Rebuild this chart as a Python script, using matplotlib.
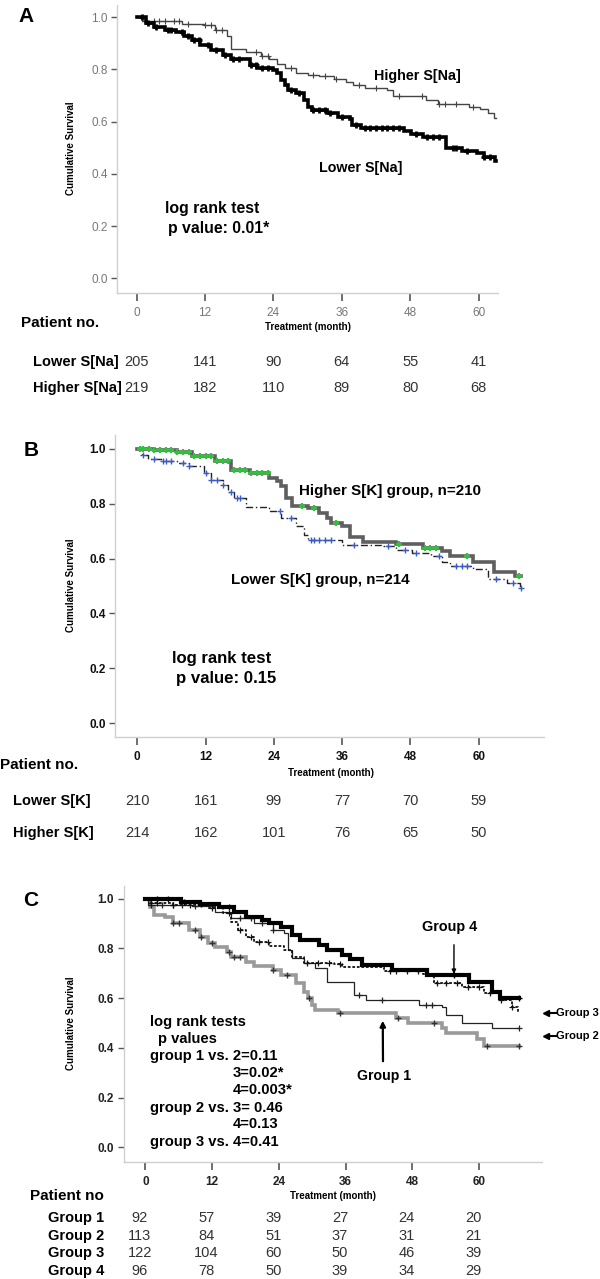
import numpy as np
import matplotlib
matplotlib.use("Agg")
import matplotlib.pyplot as plt
from matplotlib.transforms import blended_transform_factory

# ---------------- data ----------------
months = [0, 12, 24, 36, 48, 60]

# panel A : serum sodium
a_high_t = [0, 1, 8, 11.8, 13.8, 15.8, 16.5, 19.2, 21.9, 23.3, 24.6, 26, 28, 30, 32, 34.7,
            36.7, 38, 40, 44, 45, 50.7, 52.9, 58.3, 60.3, 61.7, 62.7]
a_high_s = [1.0, 0.985, 0.975, 0.97, 0.95, 0.93, 0.88, 0.868, 0.85, 0.84, 0.82, 0.805, 0.788,
            0.78, 0.775, 0.762, 0.753, 0.74, 0.73, 0.72, 0.70, 0.683, 0.668, 0.658, 0.647,
            0.635, 0.613]
a_high_cens = [1.5, 3, 4, 5, 6.5, 7.5, 9, 12, 13, 14, 15, 21, 22, 23, 27, 31, 33, 35, 39, 42,
               46, 50, 53, 54, 56, 59]
a_low_t = [0, 1.7, 3, 5, 7, 8.4, 9.8, 11.1, 13.1, 15.2, 16.5, 19.9, 21.2, 23.9, 24.6, 25.3, 26,
           26.6, 28, 29.3, 30, 30.7, 33.4, 35.4, 37.4, 37.8, 39.4, 46.9, 48.2, 50.2, 54.3, 57,
           59.7, 61, 62.8]
a_low_s = [1.0, 0.977, 0.964, 0.95, 0.942, 0.93, 0.913, 0.894, 0.875, 0.856, 0.839, 0.817, 0.805,
           0.798, 0.786, 0.76, 0.74, 0.72, 0.709, 0.683, 0.658, 0.645, 0.632, 0.619, 0.609,
           0.587, 0.575, 0.566, 0.553, 0.543, 0.498, 0.489, 0.479, 0.466, 0.45]
a_low_cens = [1, 2, 3.5, 5.5, 6, 8, 9, 10, 11, 12.5, 14, 15.5, 17, 18, 20, 21, 22, 23, 27, 28.5,
              31, 32, 33, 34, 36, 38.5, 40, 41, 42, 43, 44, 45, 46, 49, 51, 52, 53, 55.5, 56,
              58, 61, 62]
a_end = 63.0
a_rows = ["Lower S[Na]", "Higher S[Na]"]
a_counts = [[205, 141, 90, 64, 55, 41], [219, 182, 110, 89, 80, 68]]

# panel B : serum potassium
b_high_t = [0, 2.9, 7, 9.7, 13.7, 16.4, 19.8, 23.2, 24.5, 25.2, 26.2, 27.2, 30, 32, 33.3, 34,
            36, 37.4, 39.7, 45.5, 50.2, 53.6, 55, 59, 62.7, 66.4]
b_high_s = [1.0, 0.994, 0.987, 0.972, 0.954, 0.923, 0.911, 0.893, 0.881, 0.863, 0.82, 0.792,
            0.784, 0.766, 0.747, 0.729, 0.717, 0.68, 0.662, 0.654, 0.638, 0.626, 0.608, 0.586,
            0.55, 0.537]
b_high_cens = [0.5, 1, 2, 3, 4, 5, 6, 7, 8, 9, 10, 11, 12, 13, 14, 15, 16, 17, 18, 19, 20, 21,
               22, 23, 29, 31, 35, 46, 50.5, 51.5, 52.5, 58, 67]
b_low_t = [0, 0.9, 1.9, 4.3, 7, 9, 11.7, 13, 15, 16, 17, 19.1, 23.2, 25.2, 27.9, 29.3, 30, 36,
           42.8, 45.5, 48.2, 51.6, 53.6, 55, 59, 61.7, 65, 67.2]
b_low_s = [1.0, 0.978, 0.962, 0.954, 0.948, 0.936, 0.911, 0.887, 0.869, 0.844, 0.82, 0.787,
           0.772, 0.747, 0.717, 0.686, 0.668, 0.65, 0.646, 0.632, 0.62, 0.608, 0.589, 0.574,
           0.561, 0.525, 0.51, 0.492]
b_low_cens = [1, 3, 4.5, 5, 6, 8, 9, 12, 13, 14, 15, 16.5, 17.5, 18, 25, 27, 30.5, 31, 32, 33,
              34, 38, 44, 47, 49, 53, 56, 57, 58, 63, 66, 67.4]
b_end = 67.5
b_rows = ["Lower S[K]", "Higher S[K]"]
b_counts = [[210, 161, 99, 77, 70, 59], [214, 162, 101, 76, 65, 50]]

# panel C : four groups
c1_t = [0, 0.8, 1.5, 3.6, 5, 7.8, 9.8, 11.2, 12.6, 14.7, 15.4, 18.1, 19.5, 23, 24.4, 27.1,
        28.5, 29.2, 29.9, 30.6, 34.7, 45.1, 47.2, 53.4, 54.1, 59.7, 61]
c1_s = [1.0, 0.968, 0.935, 0.925, 0.901, 0.874, 0.847, 0.82, 0.804, 0.787, 0.767, 0.747, 0.729,
        0.713, 0.693, 0.66, 0.626, 0.599, 0.572, 0.552, 0.539, 0.519, 0.499, 0.479, 0.458,
        0.434, 0.408]
c1_cens = [5, 6, 9, 10, 12, 15, 16, 17, 23, 25.5, 29.5, 35, 45.5, 52, 61.5, 67.2]
c2_t = [0, 0.5, 8.4, 12.6, 15.4, 19.5, 23, 25, 25.7, 26.4, 28.5, 30.6, 32.7, 37.5, 39.6, 49.3,
        53.4, 54.1, 56.9, 62.4]
c2_s = [1.0, 0.975, 0.97, 0.948, 0.921, 0.901, 0.874, 0.861, 0.794, 0.76, 0.74, 0.72, 0.666,
        0.613, 0.592, 0.572, 0.566, 0.532, 0.501, 0.479]
c2_cens = [1, 3, 5, 6.5, 9, 12, 17, 19, 21, 23, 38.5, 42.5, 50.5, 51.5, 67.2]
c3_t = [0, 0.8, 5, 11.2, 14, 15.4, 16.7, 18.1, 19.5, 22.3, 25, 26.4, 28.5, 34, 35.4, 43, 50,
        52, 56.9, 61, 63.8, 65.9, 67]
c3_s = [1.0, 0.981, 0.975, 0.961, 0.941, 0.907, 0.874, 0.847, 0.827, 0.81, 0.794, 0.767, 0.743,
        0.736, 0.724, 0.71, 0.697, 0.66, 0.646, 0.619, 0.592, 0.566, 0.546]
c3_cens = [1, 2, 5, 8, 12, 15, 17, 19, 20.5, 22, 29, 31, 33, 35, 44, 45, 47, 49, 52.5, 54, 56,
           58, 60, 62, 64, 66]
c4_t = [0, 6.4, 9.8, 13.3, 16, 18.1, 20.9, 22.3, 24.4, 26.4, 27.8, 31.3, 32.7, 35.4, 36.8, 38.9,
        44.4, 50.7, 58.3, 62.4, 63.8]
c4_s = [1.0, 0.988, 0.98, 0.968, 0.948, 0.925, 0.914, 0.903, 0.887, 0.854, 0.834, 0.814, 0.794,
        0.773, 0.756, 0.733, 0.713, 0.693, 0.666, 0.626, 0.6]
c4_cens = [2, 4, 7, 10, 15, 55.5, 67.2]
c_end = 67.3
c_rows = ["Group 1", "Group 2", "Group 3", "Group 4"]
c_counts = [[92, 57, 39, 27, 24, 20], [113, 84, 51, 37, 31, 21],
            [122, 104, 60, 50, 46, 39], [96, 78, 50, 39, 34, 29]]

FONT = ['Liberation Sans', 'DejaVu Sans']

W, H = 600, 1279
fig = plt.figure(figsize=(W / 100, H / 100), dpi=100)


def fx(px):
    return px / W


def fy(px):
    return 1 - px / H


def label(xp, yp, s, size, ha='left', **kw):
    fig.text(fx(xp), fy(yp), s, family=FONT, weight='bold', fontsize=size, ha=ha,
             va='center', **kw)


def km(ax, t, s, end, cens, color, lw, ls='-', mcolor=None, ms=4, mew=0.8):
    # step curve plus censor marks
    ax.step(list(t) + [end], list(s) + [s[-1]], where='post', color=color, lw=lw, ls=ls,
            solid_joinstyle='miter')
    idx = np.searchsorted(t, cens, side='right') - 1
    ax.plot(cens, np.array(s)[idx], ls='none', marker='+', ms=ms, mew=mew,
            color=mcolor or color)


def setup(ax, xlim, ylim, tick_color, bold):
    ax.set_xlim(*xlim)
    ax.set_ylim(*ylim)
    ax.set_xticks(months)
    ax.set_yticks([0, 0.2, 0.4, 0.6, 0.8, 1.0])
    ax.set_yticklabels(['0.0', '0.2', '0.4', '0.6', '0.8', '1.0'])
    for sp in ['top', 'right']:
        ax.spines[sp].set_visible(False)
    for sp in ['left', 'bottom']:
        ax.spines[sp].set_color('#d0d0d0')
        ax.spines[sp].set_linewidth(1.0)
    ax.tick_params(axis='x', direction='out', length=6, width=1.2, color='#555555', pad=4)
    ax.tick_params(axis='y', direction='out', length=4, width=1.0, color='#555555', pad=3)
    for lab in ax.get_xticklabels() + ax.get_yticklabels():
        lab.set_family(FONT)
        lab.set_fontsize(8.5)
        lab.set_color(tick_color)
        lab.set_fontweight('bold' if bold else 'normal')


def table(ax, rows, counts, ys, label_x, num_dx=0, num_color='#333333'):
    tr = blended_transform_factory(ax.transData, fig.transFigure)
    for name, vals, y in zip(rows, counts, ys):
        label(label_x, y, name, 10.5)
        for m, v in zip(months, vals):
            ax.text(m + num_dx, fy(y), str(v), transform=tr, family=FONT, fontsize=10.5,
                    ha='center', va='center', color=num_color)


# ---------------- panel A ----------------
axA = fig.add_axes([0.1955, 0.7712, 0.6347, 0.2249])
km(axA, a_high_t, a_high_s, a_end, a_high_cens, '#444444', 1.0, ms=4, mew=0.8)
km(axA, a_low_t, a_low_s, a_end, a_low_cens, 'black', 2.6, ms=4, mew=2.0)
setup(axA, (-3.37, 63.4), (-0.055, 1.047), '#777777', False)
label(71, 148, 'Cumulative Survival', 7, ha='center', rotation=90)
label(26, 16, 'A', 15, ha='center')
label(417, 76, 'Higher S[Na]', 10.3, ha='center')
label(361, 168, 'Lower S[Na]', 10.3, ha='center')
label(165, 208, 'log rank test', 11.4)
label(168, 228, 'p value: 0.01*', 11.4)
label(308, 327, 'Treatment (month)', 7, ha='center')
label(21, 323, 'Patient no.', 11)
table(axA, a_rows, a_counts, [362, 388], 33)

# ---------------- panel B ----------------
axB = fig.add_axes([0.1923, 0.4235, 0.7147, 0.2364])
km(axB, b_low_t, b_low_s, b_end, b_low_cens, '#222222', 1.0, ls=(0, (5, 2, 1, 2)),
   mcolor='#3b5bc8', ms=4, mew=1.0)
km(axB, b_high_t, b_high_s, b_end, b_high_cens, '#5f5f5f', 2.6, mcolor='#2fc23a', ms=4, mew=1.6)
setup(axB, (-3.85, 71.5), (-0.051, 1.05), '#111111', True)
label(71, 585, 'Cumulative Survival', 7, ha='center', rotation=90)
label(31, 450, 'B', 15, ha='center')
label(390, 491, 'Higher S[K] group, n=210', 10.9, ha='center')
label(320, 580, 'Lower S[K] group, n=214', 10.9, ha='center')
label(172, 658, 'log rank test', 12.1)
label(176, 678, 'p value: 0.15', 12.1)
label(331, 773, 'Treatment (month)', 7, ha='center')
label(0, 765, 'Patient no.', 11)
table(axB, b_rows, b_counts, [801, 833], 13)

# ---------------- panel C ----------------
axC = fig.add_axes([0.2063, 0.0917, 0.6975, 0.2156])
km(axC, c1_t, c1_s, c_end, c1_cens, '#9a9a9a', 2.6, mcolor='#333333', ms=4, mew=1.0)
km(axC, c2_t, c2_s, c_end, c2_cens, '#222222', 0.9, ms=4, mew=0.9)
km(axC, c3_t, c3_s, c_end, c3_cens, '#111111', 1.3, ls=(0, (1.5, 1)), ms=4, mew=0.9)
km(axC, c4_t, c4_s, c_end, c4_cens, 'black', 3.0, ms=4, mew=1.0)
setup(axC, (-3.89, 71.4), (-0.058, 1.051), '#222222', True)
label(71, 1023, 'Cumulative Survival', 7, ha='center', rotation=90)
label(31, 900, 'C', 15, ha='center')

# group labels and arrows
label(450, 927, 'Group 4', 10.4, ha='center')
axC.annotate('', xy=(55.5, 0.686), xytext=(fx(454), fy(942)), textcoords='figure fraction',
             arrowprops=dict(arrowstyle='-|>', color='black', lw=1.0, mutation_scale=6))
label(384, 1076, 'Group 1', 10.2, ha='center')
axC.annotate('', xy=(42.7, 0.52), xytext=(fx(383), fy(1064)), textcoords='figure fraction',
             arrowprops=dict(arrowstyle='-|>', color='black', lw=1.6, mutation_scale=8))
for name, ypx in [('Group 3', 1013), ('Group 2', 1036)]:
    label(556, ypx, name, 8)
    fig.add_artist(plt.Line2D([fx(546), fx(556)], [fy(ypx), fy(ypx)], color='black', lw=1.5))
    fig.add_artist(plt.Line2D([fx(546)], [fy(ypx)], marker='<', ms=4, color='black'))

# log rank text block
lr_lines = [(150, 1022, 'log rank tests'), (158, 1039, 'p values'),
            (150, 1056, 'group 1 vs. 2=0.11'), (233, 1073, '3=0.02*'),
            (233, 1090, '4=0.003*'), (150, 1108, 'group 2 vs. 3= 0.46'),
            (233, 1124, '4=0.13'), (150, 1142, 'group 3 vs. 4=0.41')]
for xp, yp, s in lr_lines:
    label(xp, yp, s, 10.6)

label(333, 1196, 'Treatment (month)', 7, ha='center')
label(30, 1196, 'Patient no', 11)
table(axC, c_rows, c_counts, [1218, 1236, 1253, 1271], 48, num_dx=-1)

fig.savefig('out.png', dpi=100, facecolor='white')
